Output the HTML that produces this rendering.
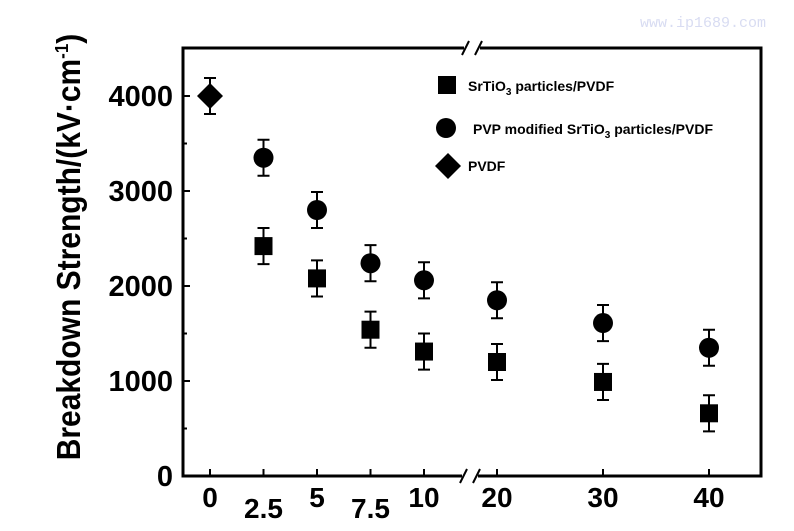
<!DOCTYPE html>
<html><head><meta charset="utf-8"><style>
body{margin:0;background:#fff}
svg text{font-family:"Liberation Sans",Arial,sans-serif;font-weight:bold}
</style></head><body>
<svg width="794" height="526" viewBox="0 0 794 526">
<text x="640" y="27" font-size="15" fill="#d8dcf2" style="font-family:'Liberation Mono',monospace;font-weight:normal">www.ip1689.com</text>
<g id="plot"></g>
<text transform="translate(80,247) rotate(-90) scale(1,1.1)" text-anchor="middle" font-size="30">Breakdown Strength/(kV·cm<tspan dy="-11" font-size="17">-1</tspan><tspan dy="11">)</tspan></text>
<g>
<rect x="438" y="76" width="18" height="18" fill="#000"/>
<text x="468" y="91" font-size="14">SrTiO<tspan dy="4" font-size="10">3</tspan><tspan dy="-4"> particles/PVDF</tspan></text>
<circle cx="446" cy="128" r="10" fill="#000"/>
<text x="473" y="134" font-size="14">PVP modified SrTiO<tspan dy="4" font-size="10">3</tspan><tspan dy="-4"> particles/PVDF</tspan></text>
<path d="M448 153 L461 166 L448 179 L435 166Z" fill="#000"/>
<text x="468" y="171" font-size="14">PVDF</text>
</g>
</svg>
<script>
const xCats=[0,2.5,5,7.5,10,20,30,40];
const xLabels=["0","2.5","5","7.5","10","20","30","40"];
const yTicks=[0,1000,2000,3000,4000];
const srX=[2.5,5,7.5,10,20,30,40];
const srY=[2420,2080,1540,1310,1200,990,660];
const srErr=[190,190,190,190,190,190,190];
const pvpX=[2.5,5,7.5,10,20,30,40];
const pvpY=[3350,2800,2240,2060,1850,1610,1350];
const pvpErr=[190,190,190,190,190,190,190];
const pvdfX=[0];
const pvdfY=[4000];
const pvdfErr=[190];
const L=183,R=761,T=48,B=476;
function xs(v){if(v<=10)return 210+v*21.4;return 497+(v-20)*10.6;}
function ys(v){return B-v*0.095;}
const NS="http://www.w3.org/2000/svg";
const g=document.getElementById('plot');
function mk(t,a){const e=document.createElementNS(NS,t);for(const k in a)e.setAttribute(k,a[k]);g.appendChild(e);return e;}
let e;
e=mk('path',{d:`M${L} ${T}V${B}H${R}V${T}Z`,fill:'none',stroke:'#000','stroke-width':3});


[[472,T],[470,B]].forEach(p=>{
 e=mk('rect',{x:p[0]-8,y:p[1]-3,width:16,height:6,fill:'#fff'});
 
 
 e=mk('path',{d:`M${p[0]-10} ${p[1]+7}L${p[0]-3} ${p[1]-7}M${p[0]+3} ${p[1]+7}L${p[0]+10} ${p[1]-7}`,stroke:'#000','stroke-width':2});
 
 
});
yTicks.forEach(v=>{
 const y=ys(v);
 e=mk('line',{x1:L,x2:L+7,y1:y,y2:y,stroke:'#000','stroke-width':2});
 
 
 if(v<4000){e=mk('line',{x1:L,x2:L+4,y1:ys(v+500),y2:ys(v+500),stroke:'#000','stroke-width':2});
 
 }
 e=mk('text',{x:173,y:y+10,'text-anchor':'end','font-size':29});
 e.textContent=String(v);
 
 
});
xCats.forEach((v,i)=>{
 const x=xs(v);
 e=mk('line',{x1:x,x2:x,y1:B,y2:B-7,stroke:'#000','stroke-width':2});
 
 
 const low=(v===2.5||v===7.5);
 e=mk('text',{x:x,y:low?518:507,'text-anchor':'middle','font-size':28});
 e.textContent=xLabels[i];
 
 
});
function err(x,y,d){
 e=mk('path',{d:`M${x} ${ys(y-d)}V${ys(y+d)}M${x-6} ${ys(y-d)}H${x+6}M${x-6} ${ys(y+d)}H${x+6}`,stroke:'#000','stroke-width':2,fill:'none'});
 
 
}
srX.forEach((v,i)=>{const x=xs(v),y=ys(srY[i]);err(x,srY[i],srErr[i]);
 e=mk('rect',{x:x-9,y:y-9,width:18,height:18,fill:'#000'});
 
 });
pvpX.forEach((v,i)=>{const x=xs(v),y=ys(pvpY[i]);err(x,pvpY[i],pvpErr[i]);
 e=mk('circle',{cx:x,cy:y,r:10,fill:'#000'});
 
 });
pvdfX.forEach((v,i)=>{const x=xs(v),y=ys(pvdfY[i]);err(x,pvdfY[i],pvdfErr[i]);
 e=mk('path',{d:`M${x} ${y-13}L${x+13} ${y}L${x} ${y+13}L${x-13} ${y}Z`,fill:'#000'});
 
 });
</script>
</body></html>
